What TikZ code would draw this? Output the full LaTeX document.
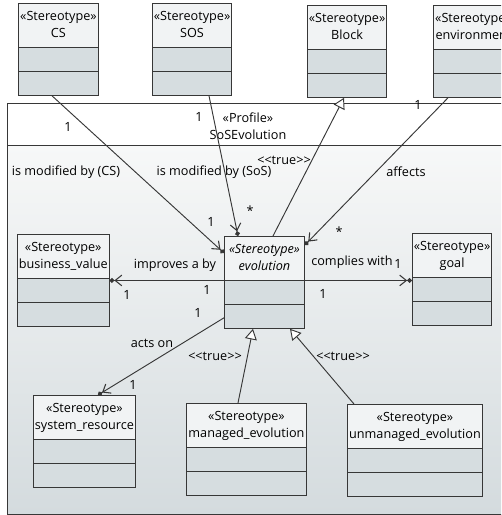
\documentclass[tikz,border=0pt]{standalone}
\usepackage{fontspec}
\setmainfont{Open Sans}
\usepackage{tikz}
\usetikzlibrary{arrows.meta, shapes.multipart, calc}
\definecolor{linecol}{RGB}{55,55,55}
\definecolor{hdrcol}{RGB}{241,243,244}
\definecolor{partcol}{RGB}{214,221,224}
\definecolor{pkgtop}{RGB}{247,248,248}
\definecolor{pkgbot}{RGB}{212,219,222}
\newcommand{\stereotxt}[1]{\strut«Stereotype»\\#1\strut}

\begin{document}
\begin{tikzpicture}[
    x=0.75pt, y=-0.75pt,
    font=\fontsize{9.5}{12.75}\selectfont,
    stereo/.style={draw=linecol, line width=0.7pt, rectangle split, rectangle split parts=3,
        rectangle split part fill={hdrcol,partcol,partcol},
        minimum width=#1*0.75pt, inner xsep=1pt, inner ysep=3.4pt,
        rectangle split empty part height=10.45pt, align=center, anchor=north west},
    assoc/.style={draw=linecol, line width=0.7pt,
        -{Straight Barb[length=5pt,width=8pt,line width=0.8pt]Circle[length=3.6pt]}},
    gen/.style={draw=linecol, line width=0.7pt, -{Triangle[open, fill=white, length=8pt, width=9pt]}},
    lbl/.style={inner sep=0pt}
]
    \clip (0,0) rectangle (501,515);
    \fill[white] (0,0) rectangle (501,515);

    % Profile package
    \draw[draw=linecol, line width=0.7pt, top color=pkgtop, bottom color=pkgbot] (7,145) rectangle (530,514);
    \draw[draw=linecol, line width=0.7pt, fill=white] (7,103) rectangle (530,145);
    \node[align=center] (prof) at (248,126) {«Profile»\\SoSEvolution};

    % Stereotypes
    \node[stereo=80] (cs) at (18,3) {\stereotxt{CS} \nodepart{two} \nodepart{three}};
    \node[stereo=79] (sos) at (152,3) {\stereotxt{SOS} \nodepart{two} \nodepart{three}};
    \node[stereo=79] (blk) at (307,5) {\stereotxt{Block} \nodepart{two} \nodepart{three}};
    \node[stereo=80] (env) at (433,5) {\stereotxt{environment} \nodepart{two} \nodepart{three}};
    \node[stereo=91] (bv) at (17,234) {\stereotxt{business\_value} \nodepart{two} \nodepart{three}};
    \node[stereo=80] (evo) at (224,236) {\strut\textit{«Stereotype»}\\\textit{evolution}\strut \nodepart{two} \nodepart{three}};
    \node[stereo=79] (goal) at (412,233) {\stereotxt{goal} \nodepart{two} \nodepart{three}};
    \node[stereo=102] (sr) at (33,395) {\stereotxt{system\_resource} \nodepart{two} \nodepart{three}};
    \node[stereo=120] (me) at (186,403) {\stereotxt{managed\_evolution} \nodepart{two} \nodepart{three}};
    \node[stereo=135] (ue) at (347,404) {\stereotxt{unmanaged\_evolution} \nodepart{two} \nodepart{three}};

    % Associations
    \draw[assoc] ($(cs.south west)+(34,0)$) -- ($(evo.north west)+(0,17)$);
    \draw[assoc] ($(sos.south west)+(57,0)$) -- ($(evo.north west)+(14,0)$);
    \draw[assoc] ($(env.south west)+(15,0)$) -- ($(evo.north east)+(0,9)$);
    \draw[assoc] (evo.text split west) -- (bv.east |- evo.text split west);
    \draw[assoc] (evo.text split east) -- (goal.west |- evo.text split east);
    \draw[assoc] ($(evo.south west)+(0,-11)$) -- ($(sr.north west)+(65,0)$);

    % Generalizations
    \draw[gen] ($(evo.north west)+(49,0)$) -- ($(blk.south west)+(37,0)$);
    \draw[gen] ($(me.north west)+(52,0)$) -- ($(evo.south west)+(29,0)$);
    \draw[gen] ($(ue.north west)+(7,0)$) -- ($(evo.south west)+(66,0)$);

    % Labels
    \node[lbl] (l1) at (68,127) {1};
    \node[lbl] (l2) at (199,117) {1};
    \node[lbl] (l3) at (418,105) {1};
    \node[lbl] (l4) at (66,172) {is modified by (CS)};
    \node[lbl] (l5) at (214,172) {is modified by (SoS)};
    \node[lbl] (l6) at (284,160) {<{}<true>{}>};
    \node[lbl] (l7) at (406,172) {affects};
    \node[lbl] (l8) at (211,222) {1};
    \node[lbl] (l9) at (250,211) {*};
    \node[lbl] (l10) at (339,232) {*};
    \node[lbl] (l11) at (175,265) {improves a by};
    \node[lbl] (l12) at (352,262) {complies with};
    \node[lbl] (l13) at (398,264) {1};
    \node[lbl] (l14) at (127,295) {1};
    \node[lbl] (l15) at (207,290) {1};
    \node[lbl] (l16) at (323,294) {1};
    \node[lbl] (l17) at (198,313) {1};
    \node[lbl] (l18) at (152,343) {acts on};
    \node[lbl] (l19) at (215,356) {<{}<true>{}>};
    \node[lbl] (l20) at (343,356) {<{}<true>{}>};
    \node[lbl] (l21) at (133,385) {1};
\end{tikzpicture}
\end{document}
